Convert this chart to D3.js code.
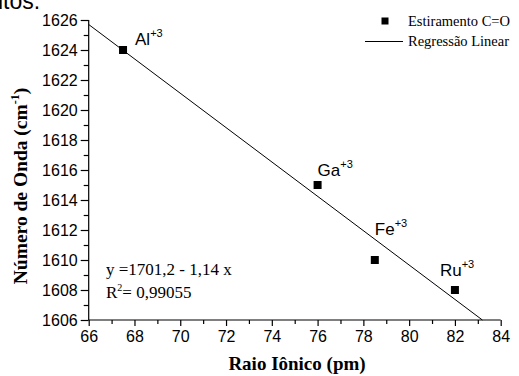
<!DOCTYPE html>
<html><head><meta charset="utf-8">
<script src="https://cdn.jsdelivr.net/npm/d3@7"></script>
<style>body{margin:0;background:#fff;} svg{display:block;}</style>
</head><body>
<script>
const ions = ["Al", "Ga", "Fe", "Ru"];
const charges = ["+3", "+3", "+3", "+3"];
const raio = [67.5, 76, 78.5, 82];
const onda = [1624, 1615, 1610, 1608];
const regX = [66, 83.2];
const regY = [1625.7, 1606];
const xTicks = [66, 68, 70, 72, 74, 76, 78, 80, 82, 84];
const yTicks = [1606, 1608, 1610, 1612, 1614, 1616, 1618, 1620, 1622, 1624, 1626];
const eqText = "y =1701,2 - 1,14 x";
const r2Text = "0,99055";

const W = 519, H = 376;
const svg = d3.select("body").append("svg").attr("width", W).attr("height", H);
const x = d3.scaleLinear().domain([66, 84]).range([88.7, 500.7]);
const y = d3.scaleLinear().domain([1606, 1626]).range([320, 20]);

const sans = "'Liberation Sans', Arial, sans-serif";
const serif = "'Liberation Serif', 'Times New Roman', serif";

svg.append("text").attr("x", -2).attr("y", 9).attr("font-family", sans).attr("font-size", 23).text("itos.");

// axes
const xAx = svg.append("g").attr("transform", `translate(0,${y(1606)})`)
  .call(d3.axisBottom(x).tickValues(xTicks).tickSize(6).tickPadding(5).tickFormat(d3.format("d")));
const xMinor = svg.append("g").attr("transform", `translate(0,${y(1606)})`)
  .call(d3.axisBottom(x).tickValues(d3.range(67, 84, 2)).tickSize(4).tickFormat(""));
const yAx = svg.append("g").attr("transform", `translate(${x(66)},0)`)
  .call(d3.axisLeft(y).tickValues(yTicks).tickSize(8).tickPadding(3).tickFormat(d3.format("d")));
const yMinor = svg.append("g").attr("transform", `translate(${x(66)},0)`)
  .call(d3.axisLeft(y).tickValues(d3.range(1607, 1626, 2)).tickSize(5).tickFormat(""));
[xAx, xMinor, yAx, yMinor].forEach(g => {
  g.selectAll("path").attr("stroke", "#000").attr("stroke-width", 1.2);
  g.selectAll("line").attr("stroke", "#000").attr("stroke-width", 1.2);
  g.selectAll("text").attr("font-family", sans).attr("font-size", 16).attr("fill", "#000");
});
xMinor.select("path").remove(); yMinor.select("path").remove();
xAx.select("path").attr("d", `M${x(66)},0H${x(84)}`);
yAx.select("path").attr("d", `M0,${y(1606)}V${y(1626)}`);

// regression line
svg.append("line").attr("x1", x(regX[0])).attr("y1", y(regY[0])).attr("x2", x(regX[1])).attr("y2", y(regY[1]))
  .attr("stroke", "#000").attr("stroke-width", 1);

// points
const s = 8;
svg.selectAll("rect.pt").data(raio).enter().append("rect").attr("class", "pt")
  .attr("x", d => x(d) - s / 2).attr("y", (d, i) => y(onda[i]) - s / 2)
  .attr("width", s).attr("height", s).attr("fill", "#000");

// labels
const lblOff = [[12, -5], [0, -9], [0, -25], [-15, -14]];
ions.forEach((ion, i) => {
  const t = svg.append("text").attr("x", x(raio[i]) + lblOff[i][0]).attr("y", y(onda[i]) + lblOff[i][1])
    .attr("font-family", sans).attr("font-size", 17).attr("fill", "#000");
  t.append("tspan").text(ion);
  t.append("tspan").attr("dy", -8).attr("font-size", 11).text(charges[i]);
});

// equation
svg.append("text").attr("x", 106).attr("y", 275).attr("font-family", serif).attr("font-size", 17).text(eqText);
const r2 = svg.append("text").attr("x", 106).attr("y", 298).attr("font-family", serif).attr("font-size", 17);
r2.append("tspan").text("R");
r2.append("tspan").attr("dy", -7).attr("font-size", 10).text("2");
r2.append("tspan").attr("dy", 7).text("= " + r2Text);

// legend
svg.append("rect").attr("x", 381.5).attr("y", 17.5).attr("width", 7).attr("height", 7).attr("fill", "#000");
svg.append("text").attr("x", 408).attr("y", 26).attr("font-family", serif).attr("font-size", 14.5).text("Estiramento C=O");
svg.append("line").attr("x1", 365).attr("x2", 403).attr("y1", 41.5).attr("y2", 41.5).attr("stroke", "#000");
svg.append("text").attr("x", 408).attr("y", 46).attr("font-family", serif).attr("font-size", 14.5).text("Regressão Linear");

// axis titles
svg.append("text").attr("x", 297).attr("y", 370).attr("text-anchor", "middle")
  .attr("font-family", serif).attr("font-weight", "bold").attr("font-size", 19).text("Raio Iônico (pm)");
const yt = svg.append("text").attr("transform", `translate(27,186) rotate(-90)`)
  .attr("text-anchor", "middle").attr("font-family", serif).attr("font-weight", "bold").attr("font-size", 19.5);
yt.append("tspan").text("Número de Onda (cm");
yt.append("tspan").attr("dy", -8).attr("font-size", 12).text("-1");
yt.append("tspan").attr("dy", 8).text(")");
</script>
</body></html>
